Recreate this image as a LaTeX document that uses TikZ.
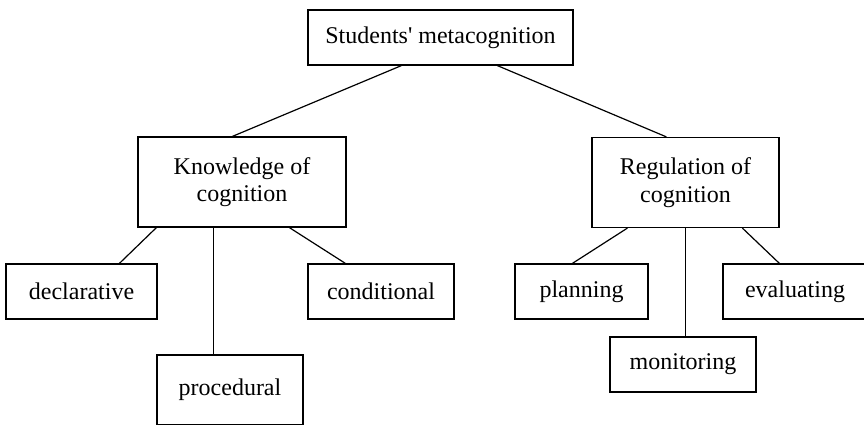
\documentclass[tikz,border=0pt]{standalone}
\usepackage{fontspec}
\setmainfont{Liberation Serif}[Ligatures=TeXOff]
\begin{document}
\begin{tikzpicture}[x=1pt,y=-1pt,
  box/.style={draw, line width=1.2pt, inner sep=0pt, align=center,
    font=\fontsize{24}{27.5}\selectfont},
  link/.style={line width=1.2pt}]
\useasboundingbox (0,0) rectangle (864,424);
\node[box, minimum width=265pt, minimum height=55pt] (top) at (440.5,37.5) {Students' metacognition};
\node[box, minimum width=208pt, minimum height=90pt] (kn) at (242,182) {Knowledge of\\cognition};
\node[box, minimum width=187pt, minimum height=90pt] (rg) at (685.5,182.5) {Regulation of\\cognition};
\node[box, minimum width=151pt, minimum height=55pt] (decl) at (81.5,291.5) {declarative};
\node[box, minimum width=146pt, minimum height=70pt] (proc) at (230,390) {procedural};
\node[box, minimum width=146pt, minimum height=55pt] (cond) at (381,291.5) {conditional};
\node[box, minimum width=133pt, minimum height=55pt] (plan) at (581.5,291.5) {planning};
\node[box, minimum width=146pt, minimum height=55pt] (mon) at (683,364.5) {monitoring};
\node[box, minimum width=144pt, minimum height=55pt] (eval) at (795,291.5) {evaluating};
\draw[link] ([xshift=94pt]top.south west) -- ([xshift=95pt]kn.north west);
\draw[link] ([xshift=190pt]top.south west) -- ([xshift=75pt]rg.north west);
\draw[link] ([xshift=19pt]kn.south west) -- ([xshift=114pt]decl.north west);
\draw[link] ([xshift=76pt]kn.south west) -- ([xshift=57pt]proc.north west);
\draw[link] ([xshift=152pt]kn.south west) -- ([xshift=38pt]cond.north west);
\draw[link] ([xshift=36pt]rg.south west) -- ([xshift=58pt]plan.north west);
\draw[link] ([xshift=94pt]rg.south west) -- ([xshift=76pt]mon.north west);
\draw[link] ([xshift=151pt]rg.south west) -- ([xshift=57pt]eval.north west);
\end{tikzpicture}
\end{document}
